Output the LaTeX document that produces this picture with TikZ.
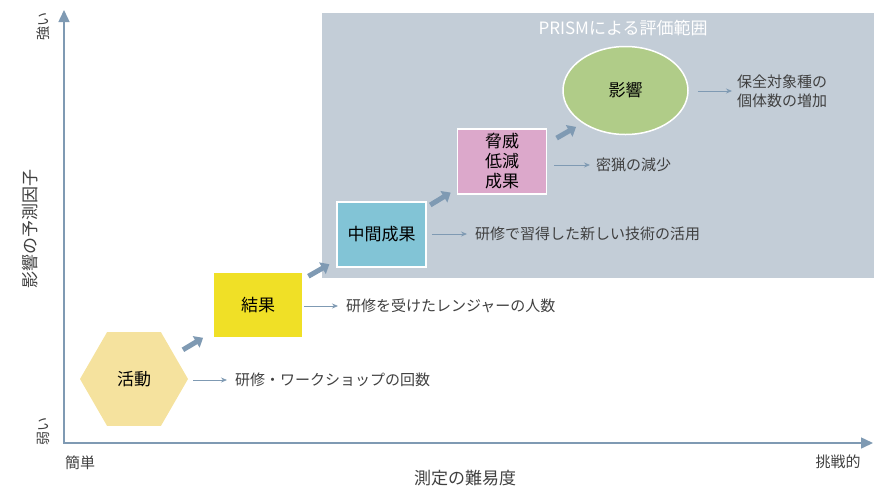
\documentclass[tikz,border=0pt]{standalone}
\usepackage{fontspec}
\setmainfont{Noto Sans CJK JP}
\usepackage{tikz}
\usetikzlibrary{arrows.meta}
\usetikzlibrary{positioning}
\usetikzlibrary{shapes}
\definecolor{prismGray}{HTML}{C3CDD7}
\definecolor{axisBlue}{HTML}{7F9AB3}
\definecolor{actYellow}{HTML}{F5E29E}
\definecolor{resYellow}{HTML}{F0E026}
\definecolor{midBlue}{HTML}{82C4D6}
\definecolor{threatPink}{HTML}{DCA8CB}
\definecolor{impactGreen}{HTML}{B0CC88}
\definecolor{noteGray}{HTML}{404040}

\tikzset{
  stage/.style={font=\fontsize{17}{20}\selectfont, text=black, inner sep=0pt, align=center},
  stagebox/.style={stage, rectangle, minimum width=89pt, minimum height=65pt},
  note/.style={anchor=west, inner sep=0pt, font=\fontsize{15}{19}\selectfont, text=noteGray, align=left},
  axislabel/.style={inner sep=0pt, font=\fontsize{15}{19}\selectfont, text=noteGray},
  notearrow/.style={draw=axisBlue, line width=0.8pt, -{Stealth[length=6pt,width=5pt]}},
  steparrow/.style={draw=axisBlue, line width=5pt, -{Triangle[length=8pt,width=13pt]}},
  axisline/.style={draw=axisBlue, line width=1.5pt, {Triangle[length=12pt,width=11pt]}-{Triangle[length=12pt,width=11pt]}}
}

\begin{document}
\begin{tikzpicture}[x=1pt, y=-1pt]
  \useasboundingbox (0,0) rectangle (874,488);

  %% PRISM range
  \fill[prismGray] (322,13) rectangle (874,278);
  \node[axislabel, text=white, font=\fontsize{17}{20}\selectfont] (prismTitle) at (623,28) {PRISMによる評価範囲};

  %% axes
  \coordinate (yTop) at (64,10);
  \coordinate (origin) at (64,443);
  \coordinate (xEnd) at (873,443);
  \draw[axisline] (yTop) -- (origin) -- (xEnd);

  \node[axislabel, rotate=90, font=\fontsize{14}{18}\selectfont] (yStrong) at (43,26) {強い};
  \node[axislabel, rotate=90, font=\fontsize{14}{18}\selectfont] (yWeak) at (43,431) {弱い};
  \node[axislabel, rotate=90, font=\fontsize{17}{20}\selectfont] (yTitle) at (30,229) {影響の予測因子};
  \node[axislabel] (xEasy) at (80,463) {簡単};
  \node[axislabel] (xHard) at (838,462) {挑戦的};
  \node[axislabel, font=\fontsize{17}{20}\selectfont] (xTitle) at (465,478) {測定の難易度};

  %% stages
  \node[stage, regular polygon, regular polygon sides=6,
        minimum size=108pt, fill=actYellow] (act) at (134,379) {活動};
  \node[stagebox, fill=resYellow, minimum width=88pt, minimum height=64pt] (res) at (258,305) {結果};
  \node[stagebox, fill=midBlue, draw=white, line width=1.5pt] (mid) at (381.5,234.5) {中間成果};
  \node[stagebox, fill=threatPink, draw=white, line width=1.5pt] (threat) at (502,161.5) {脅威\\低減\\成果};
  \node[stage, ellipse, minimum width=125pt, minimum height=88pt, fill=impactGreen,
        draw=white, line width=1.5pt] (impact) at (625.5,90.5) {影響};

  % step arrows
  \draw[steparrow, shorten <=57pt, shorten >=64pt] (act.center) -- (res.center);
  \draw[steparrow, shorten <=58pt, shorten >=60pt] (res.center) -- (mid.center);
  \draw[steparrow, shorten <=57pt, shorten >=60pt] (mid.center) -- (threat.center);
  \draw[steparrow, shorten <=63pt, shorten >=57pt] ([yshift=-8pt]threat.center) -- ([yshift=-8pt]impact.center);

  %% indicators
  \node[note] (actNote) at (235,380) {研修・ワークショップの回数};
  \node[note] (resNote) at (346,306) {研修を受けたレンジャーの人数};
  \node[note] (midNote) at (475,234) {研修で習得した新しい技術の活用};
  \node[note] (threatNote) at (596,165) {密猟の減少};
  \node[note] (impactNote) at (737,91) {保全対象種の\\個体数の増加};

  \draw[notearrow, shorten <=5pt, shorten >=8pt] (act.east |- actNote.west) -- (actNote.west);
  \draw[notearrow, shorten <=2pt, shorten >=8pt] (res.east |- resNote.west) -- (resNote.west);
  \draw[notearrow, shorten <=5pt, shorten >=8pt] (mid.east |- midNote.west) -- (midNote.west);
  \draw[notearrow, shorten <=7pt, shorten >=6pt] (threat.east |- threatNote.west) -- (threatNote.west);
  \draw[notearrow, shorten <=9pt, shorten >=5pt] (impact.east |- impactNote.west) -- (impactNote.west);
\end{tikzpicture}
\end{document}
